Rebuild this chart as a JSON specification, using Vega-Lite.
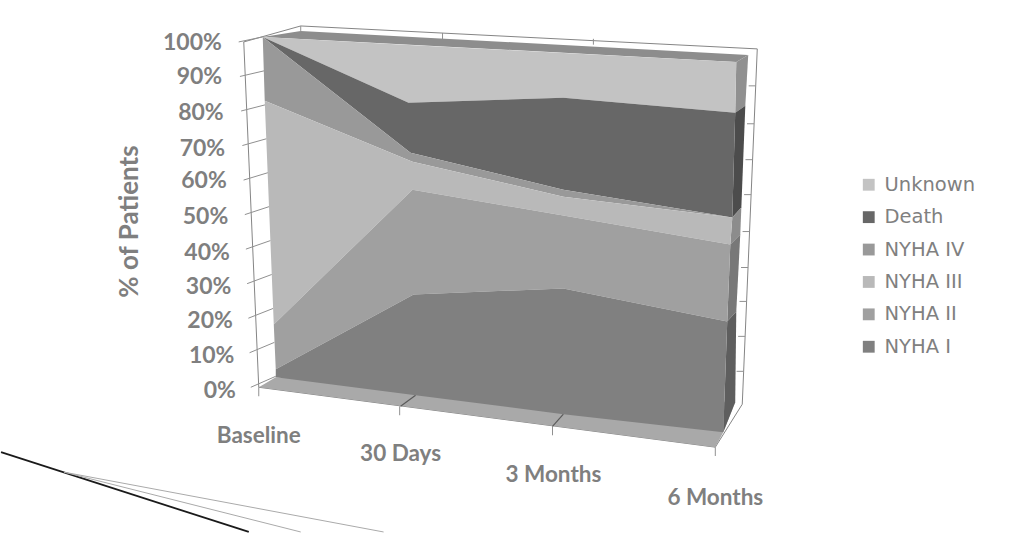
{
  "$schema": "https://vega.github.io/schema/vega-lite/v6.json",
  "width": 1024,
  "height": 533,
  "padding": 0,
  "autosize": {"type": "fit", "contains": "padding"},
  "background": "white",
  "config": {"view": {"stroke": null}, "font": "Lato"},
  "datasets": {
    "bands": [
      {"series":"Unknown","i":0,"step":0,"pct":101.45},{"series":"Unknown","i":1,"step":0.952,"pct":99.13},{"series":"Unknown","i":2,"step":1.963,"pct":96.82},{"series":"Unknown","i":3,"step":3.092,"pct":94.22},{"series":"Unknown","i":4,"step":3.085,"pct":79.48},{"series":"Unknown","i":5,"step":1.963,"pct":83.82},{"series":"Unknown","i":6,"step":0.952,"pct":82.37},
      {"series":"Death","i":0,"step":0,"pct":101.45},{"series":"Death","i":1,"step":0.952,"pct":82.37},{"series":"Death","i":2,"step":1.963,"pct":83.82},{"series":"Death","i":3,"step":3.085,"pct":79.48},{"series":"Death","i":4,"step":3.066,"pct":49.13},{"series":"Death","i":5,"step":1.963,"pct":57.23},{"series":"Death","i":6,"step":0.965,"pct":67.92},
      {"series":"NYHA IV","i":0,"step":0,"pct":101.45},{"series":"NYHA IV","i":1,"step":0.965,"pct":67.92},{"series":"NYHA IV","i":2,"step":1.963,"pct":57.23},{"series":"NYHA IV","i":3,"step":3.066,"pct":49.13},{"series":"NYHA IV","i":4,"step":1.963,"pct":55.2},{"series":"NYHA IV","i":5,"step":0.978,"pct":65.32},{"series":"NYHA IV","i":6,"step":0.013,"pct":82.95},
      {"series":"NYHA III","i":0,"step":0.013,"pct":82.95},{"series":"NYHA III","i":1,"step":0.978,"pct":65.32},{"series":"NYHA III","i":2,"step":1.963,"pct":55.2},{"series":"NYHA III","i":3,"step":3.066,"pct":49.13},{"series":"NYHA III","i":4,"step":3.053,"pct":41.33},{"series":"NYHA III","i":5,"step":1.963,"pct":49.71},{"series":"NYHA III","i":6,"step":0.978,"pct":57.23},{"series":"NYHA III","i":7,"step":0.072,"pct":18.21},
      {"series":"NYHA II","i":0,"step":0.072,"pct":18.21},{"series":"NYHA II","i":1,"step":0.978,"pct":57.23},{"series":"NYHA II","i":2,"step":1.963,"pct":49.71},{"series":"NYHA II","i":3,"step":3.053,"pct":41.33},{"series":"NYHA II","i":4,"step":3.033,"pct":19.08},{"series":"NYHA II","i":5,"step":1.963,"pct":28.61},{"series":"NYHA II","i":6,"step":0.985,"pct":26.88},{"series":"NYHA II","i":7,"step":0.085,"pct":5.2},
      {"series":"NYHA I","i":0,"step":0.085,"pct":5.2},{"series":"NYHA I","i":1,"step":0.985,"pct":26.88},{"series":"NYHA I","i":2,"step":1.963,"pct":28.61},{"series":"NYHA I","i":3,"step":3.033,"pct":19.08},{"series":"NYHA I","i":4,"step":3.007,"pct":-13.01},{"series":"NYHA I","i":5,"step":1.963,"pct":-7.8},{"series":"NYHA I","i":6,"step":0.998,"pct":-2.31},{"series":"NYHA I","i":7,"step":0.085,"pct":2.89}
    ],
    "sides": [
      {"series":"Unknown","i":0,"step":3.092,"pct":94.22},{"series":"Unknown","i":1,"step":3.17,"pct":96.24},{"series":"Unknown","i":2,"step":3.151,"pct":81.5},{"series":"Unknown","i":3,"step":3.085,"pct":79.48},
      {"series":"Death","i":0,"step":3.085,"pct":79.48},{"series":"Death","i":1,"step":3.151,"pct":81.5},{"series":"Death","i":2,"step":3.125,"pct":52.02},{"series":"Death","i":3,"step":3.066,"pct":49.13},
      {"series":"NYHA III","i":0,"step":3.066,"pct":49.13},{"series":"NYHA III","i":1,"step":3.125,"pct":52.02},{"series":"NYHA III","i":2,"step":3.118,"pct":44.22},{"series":"NYHA III","i":3,"step":3.053,"pct":41.33},
      {"series":"NYHA II","i":0,"step":3.053,"pct":41.33},{"series":"NYHA II","i":1,"step":3.118,"pct":44.22},{"series":"NYHA II","i":2,"step":3.092,"pct":21.97},{"series":"NYHA II","i":3,"step":3.033,"pct":19.08},
      {"series":"NYHA I","i":0,"step":3.033,"pct":19.08},{"series":"NYHA I","i":1,"step":3.092,"pct":21.97},{"series":"NYHA I","i":2,"step":3.085,"pct":-4.34},{"series":"NYHA I","i":3,"step":3.007,"pct":-13.01}
    ],
    "surfaces": [
      {"surface":"Top","i":0,"step":0,"pct":101.45},{"surface":"Top","i":1,"step":0.248,"pct":103.18},{"surface":"Top","i":2,"step":3.17,"pct":96.24},{"surface":"Top","i":3,"step":3.092,"pct":94.22},
      {"surface":"Floor","i":0,"step":-0.026,"pct":0},{"surface":"Floor","i":1,"step":0.085,"pct":2.89},{"surface":"Floor","i":2,"step":3.085,"pct":-4.34},{"surface":"Floor","i":3,"step":3.007,"pct":-13.01},{"surface":"Floor","i":4,"step":2.955,"pct":-17.34}
    ],
    "frame": [
      {"i":0,"step":-0.124,"pct":100},{"i":1,"step":0.248,"pct":104.62},{"i":2,"step":3.229,"pct":97.98},{"i":3,"step":3.131,"pct":-4.91},{"i":4,"step":2.955,"pct":-17.34},{"i":5,"step":-0.026,"pct":0},{"i":6,"step":-0.124,"pct":100}
    ],
    "ticks": [
      {"step":-0.078,"step2":0.085,"pct":0,"pct2":3.18},
      {"step":-0.086,"step2":0.076,"pct":10,"pct2":13},
      {"step":-0.094,"step2":0.068,"pct":20,"pct2":22.83},
      {"step":-0.102,"step2":0.059,"pct":30,"pct2":32.66},
      {"step":-0.11,"step2":0.051,"pct":40,"pct2":42.49},
      {"step":-0.117,"step2":0.042,"pct":50,"pct2":52.31},
      {"step":-0.125,"step2":0.034,"pct":60,"pct2":62.14},
      {"step":-0.133,"step2":0.025,"pct":70,"pct2":71.97},
      {"step":-0.141,"step2":0.017,"pct":80,"pct2":81.79},
      {"step":-0.149,"step2":0.008,"pct":90,"pct2":91.62},
      {"step":-0.157,"step2":0,"pct":100,"pct2":101.45},
      {"step":3.218,"step2":3.173,"pct":87.28,"pct2":87.28},
      {"step":3.208,"step2":3.162,"pct":76.3,"pct2":76.3},
      {"step":3.198,"step2":3.152,"pct":65.9,"pct2":65.9},
      {"step":3.189,"step2":3.143,"pct":55.78,"pct2":55.78},
      {"step":3.179,"step2":3.133,"pct":45.09,"pct2":45.09},
      {"step":3.169,"step2":3.123,"pct":34.68,"pct2":34.68},
      {"step":3.159,"step2":3.113,"pct":24.86,"pct2":24.86},
      {"step":3.15,"step2":3.104,"pct":14.74,"pct2":14.74},
      {"step":3.14,"step2":3.094,"pct":4.62,"pct2":4.62},
      {"step":0.248,"step2":0.248,"pct":104.62,"pct2":103.18},
      {"step":1.174,"step2":1.174,"pct":102.6,"pct2":100.6},
      {"step":2.159,"step2":2.159,"pct":100.9,"pct2":99.2},
      {"step":-0.026,"step2":-0.026,"pct":0,"pct2":-2.6},
      {"step":0.894,"step2":0.894,"pct":-5.5,"pct2":-8.1},
      {"step":1.892,"step2":1.892,"pct":-11.3,"pct2":-13.9},
      {"step":2.955,"step2":2.955,"pct":-17.34,"pct2":-19.9}
    ],
    "floorLines": [
      {"step":0.9,"step2":0.998,"pct":-5.5,"pct2":-2.31},
      {"step":1.892,"step2":1.963,"pct":-11.3,"pct2":-7.8}
    ],
    "strokeBlack": [
      {"step":-1.709,"step2":-0.091,"pct":-18.79,"pct2":-41.9}
    ],
    "strokeGray": [
      {"step":-1.298,"step2":0.789,"pct":-24.57,"pct2":-41.9},
      {"step":-1.298,"step2":0.248,"pct":-24.57,"pct2":-41.9}
    ],
    "percentLabels": [
      {"label":"0%","step":-0.175,"pct":-0.6},
      {"label":"10%","step":-0.185,"pct":9.6},
      {"label":"20%","step":-0.195,"pct":19.6},
      {"label":"30%","step":-0.205,"pct":29.5},
      {"label":"40%","step":-0.215,"pct":39.3},
      {"label":"50%","step":-0.225,"pct":49.7},
      {"label":"60%","step":-0.235,"pct":60.1},
      {"label":"70%","step":-0.245,"pct":69.4},
      {"label":"80%","step":-0.255,"pct":79.8},
      {"label":"90%","step":-0.265,"pct":90.2},
      {"label":"100%","step":-0.267,"pct":100}
    ],
    "periodLabels": [
      {"label":"Baseline","step":-0.026,"pct":-13.58},
      {"label":"30 Days","step":0.9,"pct":-18.79},
      {"label":"3 Months","step":1.898,"pct":-24.86},
      {"label":"6 Months","step":2.955,"pct":-31.5}
    ]
  },
  "encoding": {
    "x": {"field": "step", "type": "quantitative", "scale": {"domain": [-1.70907, 4.97065], "nice": false, "zero": false}, "axis": null},
    "y": {
      "field": "pct",
      "type": "quantitative",
      "scale": {"domain": [-41.907, 112.139], "nice": false, "zero": false},
      "axis": {"title": "% of Patients", "labels": false, "ticks": false, "domain": false, "grid": false, "titleX": 141, "titleY": 221, "titleFontSize": 26, "titleFont": "Lato", "titleFontWeight": "bold", "titleColor": "#7f7f7f"}
    }
  },
  "layer": [
    {
      "data": {"name": "frame"},
      "mark": {"type": "line", "stroke": "#858585", "strokeWidth": 1},
      "encoding": {"order": {"field": "i"}}
    },
    {
      "data": {"name": "ticks"},
      "mark": {"type": "rule", "stroke": "#909090", "strokeWidth": 1},
      "encoding": {"x2": {"field": "step2"}, "y2": {"field": "pct2"}}
    },
    {
      "data": {"name": "surfaces"},
      "mark": {"type": "line", "interpolate": "linear-closed", "filled": true, "stroke": null},
      "encoding": {
        "order": {"field": "i"},
        "fill": {"field": "surface", "type": "nominal", "scale": {"domain": ["Top", "Floor"], "range": ["#8d8d8d", "#a9a9a9"]}, "legend": null}
      }
    },
    {
      "data": {"name": "floorLines"},
      "mark": {"type": "rule", "stroke": "#5a5a5a", "strokeWidth": 1.2},
      "encoding": {"x2": {"field": "step2"}, "y2": {"field": "pct2"}}
    },
    {
      "data": {"name": "sides"},
      "mark": {"type": "line", "interpolate": "linear-closed", "filled": true, "stroke": null},
      "encoding": {
        "order": {"field": "i"},
        "fill": {"field": "series", "type": "nominal", "scale": {"domain": ["Unknown", "Death", "NYHA III", "NYHA II", "NYHA I"], "range": ["#909090", "#4c4c4c", "#8c8c8c", "#787878", "#5e5e5e"]}, "legend": null}
      }
    },
    {
      "data": {"name": "bands"},
      "mark": {"type": "line", "interpolate": "linear-closed", "filled": true, "stroke": null},
      "encoding": {
        "order": {"field": "i"},
        "fill": {
          "field": "series",
          "type": "nominal",
          "scale": {"domain": ["Unknown", "Death", "NYHA IV", "NYHA III", "NYHA II", "NYHA I"], "range": ["#c3c3c3", "#676767", "#999999", "#b9b9b9", "#a0a0a0", "#808080"]},
          "legend": {"title": null, "orient": "none", "legendX": 858, "legendY": 175, "symbolType": "square", "symbolSize": 140, "symbolStrokeWidth": 0, "labelFont": "DejaVu Sans", "labelFontSize": 19.5, "labelColor": "#808080", "rowPadding": 11.4, "labelOffset": 6}
        }
      }
    },
    {
      "data": {"name": "strokeBlack"},
      "mark": {"type": "rule", "stroke": "#1a1a1a", "strokeWidth": 1.8},
      "encoding": {"x2": {"field": "step2"}, "y2": {"field": "pct2"}}
    },
    {
      "data": {"name": "strokeGray"},
      "mark": {"type": "rule", "stroke": "#aaaaaa", "strokeWidth": 1},
      "encoding": {"x2": {"field": "step2"}, "y2": {"field": "pct2"}}
    },
    {
      "data": {"name": "percentLabels"},
      "mark": {"type": "text", "align": "right", "baseline": "middle", "dy": 1.5, "font": "Lato", "fontWeight": "bold", "fontSize": 23, "color": "#7f7f7f"},
      "encoding": {"text": {"field": "label"}}
    },
    {
      "data": {"name": "periodLabels"},
      "mark": {"type": "text", "align": "center", "baseline": "middle", "dy": 1.5, "font": "Lato", "fontWeight": "bold", "fontSize": 22.5, "color": "#7f7f7f"},
      "encoding": {"text": {"field": "label"}}
    }
  ],
  "resolve": {"scale": {"fill": "independent"}}
}
